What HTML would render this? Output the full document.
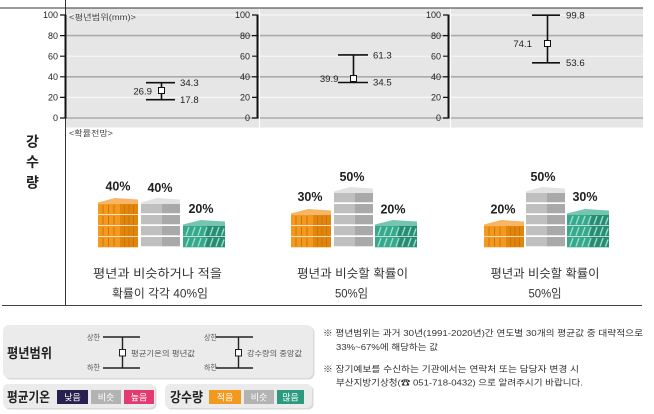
<!DOCTYPE html>
<html><head><meta charset="utf-8"><style>
html,body{margin:0;padding:0;background:#fff;}
svg{display:block;font-family:"Liberation Sans","Noto Sans CJK KR",sans-serif;}
</style></head><body>
<svg width="654" height="414" viewBox="0 0 654 414" xmlns="http://www.w3.org/2000/svg">
<defs>
<g id="oL"><rect x="0" y="0" width="22" height="10.3" fill="#f39a1e"/><rect x="22" y="0" width="18" height="10.3" fill="#e2850d"/><path d="M5 1v8.5M10.5 1v8.5M16 1v8.5M26.5 1v8.5M31 1v8.5M35.5 1v8.5" stroke="#cc7206" stroke-width="1"/></g>
<g id="oT"><polygon points="0,4.5 17,0 40,1.5 40,6 0,6" fill="#f7b565"/></g>
<g id="gL"><rect x="0" y="0" width="21" height="9.3" fill="#bfbfbf"/><rect x="21" y="0" width="18" height="9.3" fill="#a9a9a9"/></g>
<g id="gT"><polygon points="0,4.5 16,0 39,1.5 39,6 0,6" fill="#e2e2e2"/></g>
<g id="tL"><rect x="0" y="0" width="23" height="10.3" fill="#36a88b"/><rect x="23" y="0" width="19" height="10.3" fill="#268c72"/><path d="M3 9.5l3-8.5M9 9.5l3-8.5M15 9.5l3-8.5M21 9.5l3-8.5M27 9.5l3-8.5M33 9.5l3-8.5M38.5 9.5l2.5-7" stroke="#9fdccb" stroke-width="1.4"/></g>
<g id="tT"><polygon points="0,4.5 18,0 42,1.5 42,6 0,6" fill="#74c6b0"/></g>
</defs>
<rect width="654" height="414" fill="#fff"/>

<rect x="65" y="8.5" width="578" height="119" fill="#e6e6e6"/>
<g stroke-width="1.2" stroke="#f7f7f7">
<line x1="65" y1="15" x2="643" y2="15"/>
<line x1="65" y1="56.2" x2="643" y2="56.2"/>
<line x1="65" y1="97.4" x2="643" y2="97.4"/>
</g>
<g stroke-width="1.6" stroke="#ababab">
<line x1="65" y1="35.6" x2="643" y2="35.6"/>
<line x1="65" y1="76.8" x2="643" y2="76.8"/>
<line x1="65" y1="118" x2="643" y2="118"/>
</g>
<line x1="259.5" y1="8.5" x2="259.5" y2="127.5" stroke="#fff" stroke-width="1"/>
<line x1="450.5" y1="8.5" x2="450.5" y2="127.5" stroke="#fff" stroke-width="1"/>

<line x1="0" y1="8" x2="643" y2="8" stroke="#333" stroke-width="1"/>
<line x1="65.5" y1="0" x2="65.5" y2="305" stroke="#333" stroke-width="1"/>
<line x1="2" y1="305.5" x2="642" y2="305.5" stroke="#444" stroke-width="1"/>

<g stroke="#111" fill="none">
<line x1="65.5" y1="14.5" x2="65.5" y2="118.5" stroke-width="2"/>
<path d="M60 15H65M60 35.6H65M60 56.2H65M60 76.8H65M60 97.4H65M60 118H65" stroke-width="1.2"/>
<line x1="257.5" y1="14.5" x2="257.5" y2="118.5" stroke-width="2"/>
<path d="M252 15H257M252 35.6H257M252 56.2H257M252 76.8H257M252 97.4H257M252 118H257" stroke-width="1.2"/>
<line x1="448.5" y1="14.5" x2="448.5" y2="118.5" stroke-width="2"/>
<path d="M443 15H448M443 35.6H448M443 56.2H448M443 76.8H448M443 97.4H448M443 118H448" stroke-width="1.2"/>
</g>
<g font-size="9" fill="#222" text-anchor="end">
<text x="58" y="18.2">100</text><text x="58" y="38.8">80</text><text x="58" y="59.4">60</text><text x="58" y="80">40</text><text x="58" y="100.6">20</text><text x="58" y="121.2">0</text>
<text x="250" y="18.2">100</text><text x="250" y="38.8">80</text><text x="250" y="59.4">60</text><text x="250" y="80">40</text><text x="250" y="100.6">20</text><text x="250" y="121.2">0</text>
<text x="441" y="18.2">100</text><text x="441" y="38.8">80</text><text x="441" y="59.4">60</text><text x="441" y="80">40</text><text x="441" y="100.6">20</text><text x="441" y="121.2">0</text>
</g>
<text x="69" y="20" font-size="7.8" fill="#444" textLength="67" lengthAdjust="spacingAndGlyphs">&lt;평년범위(mm)&gt;</text>

<g stroke="#111" stroke-width="1.6" fill="none">
<path d="M146 82.7H175M146 99.7H175M161.5 82.7V99.7"/>
<path d="M338 54.9H368M338 82.5H368M353.5 54.9V82.5"/>
<path d="M532 15.2H560M532 62.8H560M547.5 15.2V62.8"/>
</g>
<g fill="#fff" stroke="#111" stroke-width="1">
<rect x="158.5" y="87.5" width="6" height="6"/>
<rect x="350.5" y="75.5" width="6" height="6"/>
<rect x="544.5" y="40.5" width="6" height="6"/>
</g>
<g font-size="9.6" fill="#222">
<text x="180" y="86">34.3</text><text x="180" y="103">17.8</text>
<text x="152" y="94.5" text-anchor="end">26.9</text>
<text x="373" y="58.3">61.3</text><text x="373" y="85.5">34.5</text>
<text x="338.5" y="82" text-anchor="end">39.9</text>
<text x="566" y="18.5">99.8</text><text x="566" y="66">53.6</text>
<text x="532" y="47" text-anchor="end">74.1</text>
</g>

<text x="69" y="136" font-size="7.8" fill="#444" textLength="44" lengthAdjust="spacingAndGlyphs">&lt;확률전망&gt;</text>
<g font-size="14" font-weight="bold" fill="#222" text-anchor="middle">
<text x="32.5" y="146.5">강</text>
<text x="32.5" y="167">수</text>
<text x="32.5" y="187.5">량</text>
</g>

<use href="#oT" x="98" y="198"/>
<use href="#oL" x="98" y="204"/><use href="#oL" x="98" y="215"/><use href="#oL" x="98" y="226"/><use href="#oL" x="98" y="237"/>
<use href="#gT" x="141" y="198"/>
<use href="#gL" x="141" y="204"/><use href="#gL" x="141" y="215"/><use href="#gL" x="141" y="226"/><use href="#gL" x="141" y="237"/>
<use href="#tT" x="183" y="220"/>
<use href="#tL" x="183" y="226"/><use href="#tL" x="183" y="237"/>

<use href="#oT" x="291" y="209"/>
<use href="#oL" x="291" y="215"/><use href="#oL" x="291" y="226"/><use href="#oL" x="291" y="237"/>
<use href="#gT" x="334" y="187"/>
<use href="#gL" x="334" y="193"/><use href="#gL" x="334" y="204"/><use href="#gL" x="334" y="215"/><use href="#gL" x="334" y="226"/><use href="#gL" x="334" y="237"/>
<use href="#tT" x="375" y="220"/>
<use href="#tL" x="375" y="226"/><use href="#tL" x="375" y="237"/>

<use href="#oT" x="484" y="220"/>
<use href="#oL" x="484" y="226"/><use href="#oL" x="484" y="237"/>
<use href="#gT" x="526" y="187"/>
<use href="#gL" x="526" y="193"/><use href="#gL" x="526" y="204"/><use href="#gL" x="526" y="215"/><use href="#gL" x="526" y="226"/><use href="#gL" x="526" y="237"/>
<use href="#tT" x="567" y="209"/>
<use href="#tL" x="567" y="215"/><use href="#tL" x="567" y="226"/><use href="#tL" x="567" y="237"/>

<g font-size="12.5" font-weight="bold" fill="#222" text-anchor="middle">
<text x="118" y="190.5">40%</text><text x="160" y="192">40%</text><text x="201" y="213">20%</text>
<text x="310" y="201">30%</text><text x="352" y="181">50%</text><text x="393" y="213.5">20%</text>
<text x="503" y="213.5">20%</text><text x="543" y="181">50%</text><text x="585" y="201">30%</text>
</g>
<g font-size="12" fill="#333" text-anchor="middle">
<text x="157.5" y="277.5" textLength="129" lengthAdjust="spacingAndGlyphs">평년과 비슷하거나 적을</text>
<text x="160" y="297.5" textLength="96" lengthAdjust="spacingAndGlyphs">확률이 각각 40%임</text>
<text x="352.5" y="277.5" textLength="111" lengthAdjust="spacingAndGlyphs">평년과 비슷할 확률이</text>
<text x="351.5" y="297.5" textLength="33" lengthAdjust="spacingAndGlyphs">50%임</text>
<text x="545" y="277.5" textLength="109" lengthAdjust="spacingAndGlyphs">평년과 비슷할 확률이</text>
<text x="545" y="297.5" textLength="33" lengthAdjust="spacingAndGlyphs">50%임</text>
</g>

<rect x="4.5" y="326.5" width="310" height="53" rx="6" fill="#d9d9d9"/>
<rect x="3" y="325" width="310" height="53" rx="6" fill="#ebebeb"/>
<rect x="4.5" y="385.5" width="152" height="24" rx="5" fill="#d9d9d9"/>
<rect x="3" y="384" width="152" height="24" rx="5" fill="#ebebeb"/>
<rect x="166.5" y="385.5" width="147" height="24" rx="5" fill="#d9d9d9"/>
<rect x="165" y="384" width="147" height="24" rx="5" fill="#ebebeb"/>

<text x="7" y="358" font-size="13.5" font-weight="bold" fill="#222" textLength="45" lengthAdjust="spacingAndGlyphs">평년범위</text>
<text x="7" y="402" font-size="13.5" font-weight="bold" fill="#222" textLength="43" lengthAdjust="spacingAndGlyphs">평균기온</text>
<text x="170" y="402" font-size="13.5" font-weight="bold" fill="#222" textLength="33" lengthAdjust="spacingAndGlyphs">강수량</text>

<g stroke="#222" stroke-width="1.4" fill="none">
<path d="M103 337H140M103 368H140M122.5 337V368"/>
<path d="M216 337H253M216 368H253M238.5 337V368"/>
</g>
<g fill="#fff" stroke="#222" stroke-width="1">
<rect x="119.5" y="349.5" width="6" height="6.5"/>
<rect x="235.5" y="349.5" width="6" height="6.5"/>
</g>
<g font-size="7.5" fill="#555">
<text x="87" y="340" textLength="13" lengthAdjust="spacingAndGlyphs">상한</text>
<text x="87" y="370" textLength="13" lengthAdjust="spacingAndGlyphs">하한</text>
<text x="131" y="356" textLength="64" lengthAdjust="spacingAndGlyphs">평균기온의 평년값</text>
<text x="204" y="340" textLength="13" lengthAdjust="spacingAndGlyphs">상한</text>
<text x="204" y="370" textLength="13" lengthAdjust="spacingAndGlyphs">하한</text>
<text x="247" y="356" textLength="55" lengthAdjust="spacingAndGlyphs">강수량의 중앙값</text>
</g>

<rect x="57" y="390" width="31" height="14" fill="#27214f"/>
<rect x="91" y="390" width="30" height="14" fill="#b3b3b3"/>
<rect x="124" y="390" width="30" height="14" fill="#e33a70"/>
<rect x="209" y="390" width="32" height="14" fill="#f39a1e"/>
<rect x="244" y="390" width="30" height="14" fill="#b3b3b3"/>
<rect x="277" y="390" width="27" height="14" fill="#2c9a7f"/>
<g font-size="9" fill="#fff" text-anchor="middle">
<text x="72.5" y="400.5">낮음</text>
<text x="106" y="400.5">비슷</text>
<text x="139" y="400.5">높음</text>
<text x="225" y="400.5">적음</text>
<text x="259" y="400.5">비슷</text>
<text x="290.5" y="400.5">많음</text>
</g>

<g font-size="8.6" fill="#333">
<text x="323" y="336" textLength="320" lengthAdjust="spacingAndGlyphs">※ 평년범위는 과거 30년(1991-2020년)간 연도별 30개의 평균값 중 대략적으로</text>
<text x="336" y="350" textLength="102" lengthAdjust="spacingAndGlyphs">33%~67%에 해당하는 값</text>
<text x="323" y="372" textLength="256" lengthAdjust="spacingAndGlyphs">※ 장기예보를 수신하는 기관에서는 연락처 또는 담당자 변경 시</text>
<text x="336" y="385.5" textLength="247" lengthAdjust="spacingAndGlyphs">부산지방기상청(☎ 051-718-0432) 으로 알려주시기 바랍니다.</text>
</g>
</svg>
</body></html>
